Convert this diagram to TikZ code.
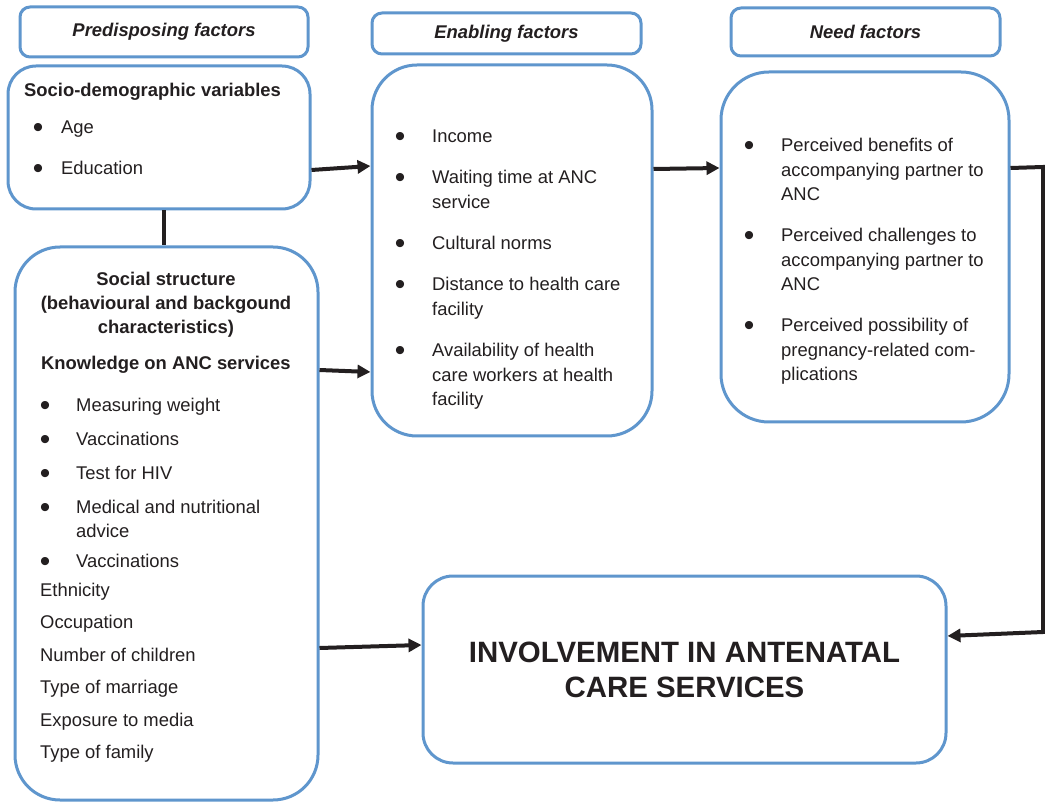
\documentclass[tikz,border=0pt]{standalone}
\usepackage{fontspec}
\setmainfont{Liberation Sans}
\usetikzlibrary{arrows.meta}
\definecolor{boxblue}{RGB}{95,150,205}
\definecolor{ink}{RGB}{35,31,32}
% a large list bullet, centred 3pt from the left edge of its column
\newcommand{\bigbul}{\hspace*{3pt}\makebox[0pt]{\fontsize{30}{24}\selectfont\raisebox{-4pt}{•}}}
% bulleted item: first column holds the bullet, second the (possibly wrapped) text
\newcommand{\blist}[2]{\begin{tabular}[t]{@{}p{#1}@{}l@{}}#2\end{tabular}}
\newcommand{\clines}[1]{\begin{tabular}[t]{@{}c@{}}#1\end{tabular}}

\begin{document}
\begin{tikzpicture}[x=1pt,y=-1pt,
  box/.style={draw=boxblue,line width=3pt,rounded corners=#1,fill=white,inner sep=0pt},
  hdr/.style={box=10pt,text=ink,font=\fontsize{18.4}{24.5}\selectfont\bfseries\itshape},
  txt/.style={anchor=base west,inner sep=0pt,text=ink,font=\fontsize{18.4}{24.5}\selectfont},
  ctxt/.style={txt,anchor=base},
  arr/.style={draw=ink,line width=4pt,-{Triangle[length=13pt,width=13pt]}},
  link/.style={draw=ink,line width=4pt}]
\useasboundingbox (0,0) rectangle (1045,802);

% column headers
\node[hdr,minimum width=288pt,minimum height=50pt] (hpre) at (164,32) {Predisposing factors};
\node[hdr,minimum width=269pt,minimum height=41pt] (henab) at (506.5,33.5) {Enabling factors};
\node[hdr,minimum width=269pt,minimum height=48pt] (hneed) at (865.5,32) {Need factors};

% main boxes
\node[box=28pt,minimum width=302pt,minimum height=143pt] (socio) at (159,137.5) {};
\node[box=45pt,minimum width=303pt,minimum height=553pt] (social) at (166.5,523.5) {};
\node[box=45pt,minimum width=280pt,minimum height=371pt] (enab) at (512,250.5) {};
\node[box=48pt,minimum width=288pt,minimum height=350pt] (need) at (865,247) {};
\node[box=30pt,minimum width=523pt,minimum height=187pt,text=ink,align=center,
      font=\fontsize{29.4}{35}\selectfont\bfseries] (inv) at (684.5,669.5)
      {INVOLVEMENT IN ANTENATAL\\CARE SERVICES};

% socio-demographic variables
\node[txt,font=\fontsize{18.4}{24.5}\selectfont\bfseries] (sdtitle) at (24,97) {Socio-demographic variables};
\node[txt] (sd1) at (35,134) {\blist{26pt}{\bigbul&Age}};
\node[txt] (sd2) at (35,175) {\blist{26pt}{\bigbul&Education}};

% social structure
\node[ctxt,font=\fontsize{18.4}{24}\selectfont\bfseries] (sstitle) at (166,286)
  {\clines{Social structure\\(behavioural and backgound\\characteristics)}};
\node[txt,font=\fontsize{18.4}{24.5}\selectfont\bfseries] (know) at (41,370) {Knowledge on ANC services};
\node[txt] (k1) at (42,412) {\blist{34pt}{\bigbul&Measuring weight}};
\node[txt] (k2) at (42,446) {\blist{34pt}{\bigbul&Vaccinations}};
\node[txt] (k3) at (42,479) {\blist{34pt}{\bigbul&Test for HIV}};
\node[txt] (k4) at (42,513) {\blist{34pt}{\bigbul&Medical and nutritional\\&advice}};
\node[txt] (k5) at (42,567) {\blist{34pt}{\bigbul&Vaccinations}};
\node[txt] (o1) at (40,596) {Ethnicity};
\node[txt] (o2) at (40,628.5) {Occupation};
\node[txt] (o3) at (40,661) {Number of children};
\node[txt] (o4) at (40,693.5) {Type of marriage};
\node[txt] (o5) at (40,726) {Exposure to media};
\node[txt] (o6) at (40,758.5) {Type of family};

% enabling factors
\node[txt] (e1) at (397,142.5) {\blist{35pt}{\bigbul&Income}};
\node[txt] (e2) at (397,184) {\blist{35pt}{\bigbul&Waiting time at ANC\\&service}};
\node[txt] (e3) at (397,249.5) {\blist{35pt}{\bigbul&Cultural norms}};
\node[txt] (e4) at (397,291) {\blist{35pt}{\bigbul&Distance to health care\\&facility}};
\node[txt] (e5) at (397,357) {\blist{35pt}{\bigbul&Availability of health\\&care workers at health\\&facility}};

% need factors
\node[txt] (n1) at (746,152) {\blist{35pt}{\bigbul&Perceived benefits of\\&accompanying partner to\\&ANC}};
\node[txt] (n2) at (746,242) {\blist{35pt}{\bigbul&Perceived challenges to\\&accompanying partner to\\&ANC}};
\node[txt] (n3) at (746,332) {\blist{35pt}{\bigbul&Perceived possibility of\\&pregnancy-related com-\\&plications}};

% connectors
\coordinate (rtop) at (1043,167);
\coordinate (rbot) at (1043,632);
\draw[link] ([xshift=5pt]socio.south) -- ([xshift=-2.5pt]social.north);
\draw[arr] ([yshift=-32.5pt]socio.east) -- ([yshift=84.5pt]enab.west);
\draw[arr] ([yshift=153.5pt]social.east) -- ([yshift=-121.5pt]enab.west);
\draw[arr] ([yshift=81.5pt]enab.east) -- ([yshift=79pt]need.west);
\draw[arr] ([yshift=79pt]need.east) -- (rtop) -- (rbot) -- ([yshift=33.5pt]inv.east);
\draw[arr] ([yshift=-124.5pt]social.east) -- ([yshift=24.5pt]inv.west);
\end{tikzpicture}
\end{document}
